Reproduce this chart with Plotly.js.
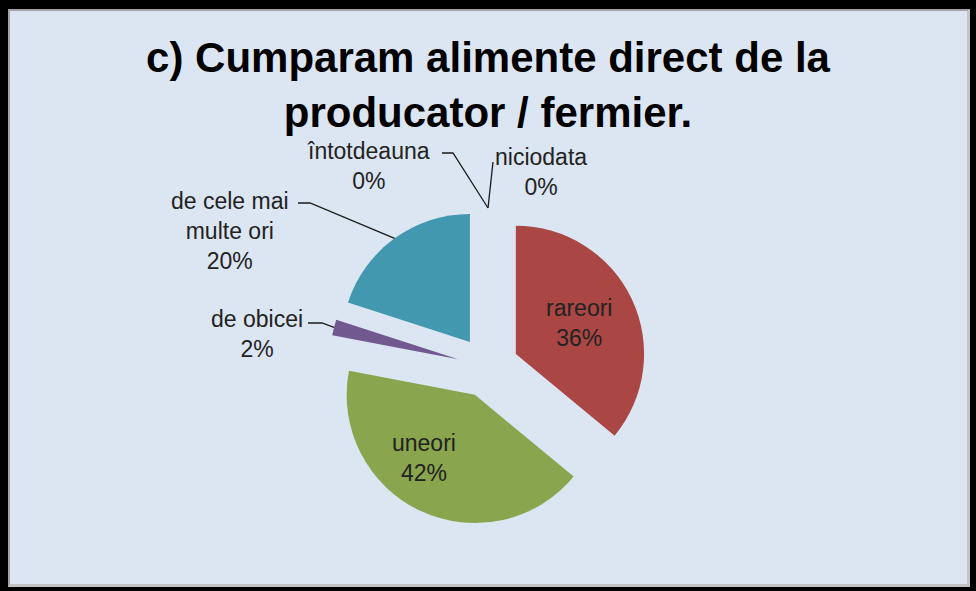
<!DOCTYPE html>
<html><head><meta charset="utf-8">
<script src="https://cdn.plot.ly/plotly-3.0.1.min.js"></script>
<style>
html,body{margin:0;padding:0;background:#000;width:976px;height:591px;overflow:hidden}
#frame{position:absolute;left:8px;top:9px;width:962px;height:578px;box-sizing:border-box;background:#dce6f2;border:2px solid #a3a3a3;border-right:3px solid #c4c4c4;border-bottom:3px solid #c4c4c4}
#chart{position:absolute;left:0;top:0;width:976px;height:591px}
</style></head><body>
<div id="frame"></div><div id="chart"></div>
<script>
// ---- data ----
const titleText = 'c) Cumparam alimente direct de la<br>producator / fermier.';
const categories = ['niciodata', 'rareori', 'uneori', 'de obicei', 'de cele mai multe ori', 'întotdeauna'];
const shares = [0, 36, 42, 2, 20, 0];
const sliceColors = ['#4F81BD', '#AA4643', '#89A54E', '#71588F', '#4198AF', '#DB843D'];

// ---- styles / placement (pixels) ----
const PULL = 0.24;
const M = {l: 100, r: 100, t: 208, b: 65};
const labelFont = {family: 'Liberation Sans, Arial, sans-serif', size: 23, color: '#222'};
const labelPlacement = {
  'niciodata':            {text: [541, 172], line: [[493, 162]]},
  'rareori':              {text: [579, 323]},
  'uneori':               {text: [424, 458]},
  'întotdeauna':          {text: [368, 166], line: [[442, 153], [453, 153]]},
  'de cele mai multe ori':{text: [230, 231], line: [[298, 203], [310, 203]], brk: 'de cele mai<br>multe ori'},
  'de obicei':            {text: [257, 334], line: [[308, 323], [322, 323]]}
};

const gd = document.getElementById('chart');
const total = shares.reduce((a, b) => a + b, 0);

const trace = {
  type: 'pie',
  labels: categories,
  values: shares,
  sort: false,
  direction: 'clockwise',
  rotation: 0,
  pull: PULL,
  marker: {colors: sliceColors, line: {width: 0}},
  textinfo: 'none',
  hoverinfo: 'label+percent',
  showlegend: false
};

const layout = {
  width: 976, height: 591,
  margin: M,
  paper_bgcolor: 'rgba(0,0,0,0)',
  plot_bgcolor: 'rgba(0,0,0,0)',
  showlegend: false,
  title: {
    text: titleText,
    font: {family: 'Liberation Sans, Arial, sans-serif', size: 42, color: '#000', weight: 'bold'},
    x: 0.5, xref: 'paper', xanchor: 'center',
    y: 1 - 72 / 591, yref: 'container', yanchor: 'top'
  }
};

Plotly.newPlot(gd, [trace], layout, {displayModeBar: false, staticPlot: true}).then(function () {
  const gs = gd._fullLayout._size;
  let cx, cy, r;
  const cd0 = gd.calcdata && gd.calcdata[0] && gd.calcdata[0][0];
  if (cd0 && cd0.r) { cx = cd0.cx; cy = cd0.cy; r = cd0.r; }
  else {
    cx = gs.l + gs.w / 2; cy = gs.t + gs.h / 2;
    r = Math.min(gs.w, gs.h) / 2 / (1 + PULL);
  }
  const toX = px => (px - gs.l) / gs.w;
  const toY = py => 1 - (py - gs.t) / gs.h;

  const annotations = [];
  const shapes = [];
  let cum = 0;
  categories.forEach((c, i) => {
    const v = shares[i];
    const mid = 2 * Math.PI * (cum + v / 2) / total;
    cum += v;
    const place = labelPlacement[c];
    if (!place) return;
    const pct = Math.round(v / total * 100) + '%';
    annotations.push({
      xref: 'paper', yref: 'paper',
      x: toX(place.text[0]), y: toY(place.text[1]),
      xanchor: 'center', yanchor: 'middle', align: 'center',
      showarrow: false,
      text: (place.brk || c) + '<br>' + pct,
      font: labelFont
    });
    if (place.line) {
      const R = r * (1 + PULL);
      const end = [cx + R * Math.sin(mid), cy - R * Math.cos(mid)];
      const pts = place.line.concat([end]);
      const path = pts.map((p, k) => (k ? 'L ' : 'M ') + toX(p[0]) + ' ' + toY(p[1])).join(' ');
      shapes.push({type: 'path', xref: 'paper', yref: 'paper', path: path,
        line: {color: '#1a1a1a', width: 1.3}});
    }
  });
  return Plotly.relayout(gd, {annotations: annotations, shapes: shapes});
});
</script>
</body></html>
